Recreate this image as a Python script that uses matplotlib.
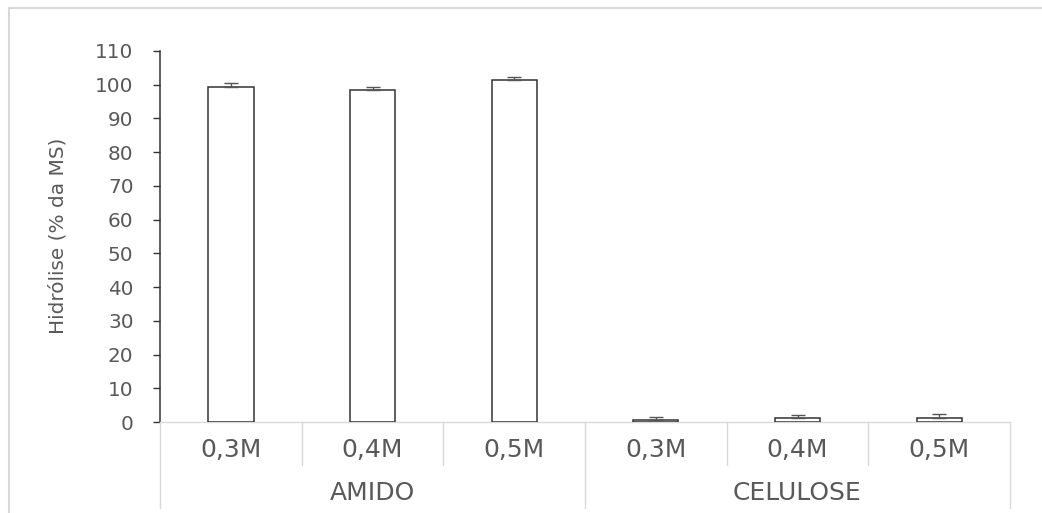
import matplotlib.pyplot as plt
import matplotlib.transforms as mtransforms
from matplotlib.patches import Rectangle

plt.rcParams['font.family'] = ['DejaVu Sans']

groups = ['AMIDO', 'CELULOSE']
concs = ['0,3M', '0,4M', '0,5M']
valores = [99.4, 98.3, 101.4, 0.6, 1.3, 1.3]
erros = [1.0, 1.0, 1.0, 1.0, 0.7, 1.0]
yticks = list(range(0, 111, 10))

W, H = 1042, 513
fig = plt.figure(figsize=(W / 100, H / 100), dpi=100)
ax = fig.add_axes([160 / W, (H - 422) / H, (1010 - 160) / W, (422 - 51) / H])

x = list(range(len(valores)))
ax.bar(x, valores, width=0.32, color='white', edgecolor='#333333', linewidth=1.1,
       yerr=[[0] * len(erros), erros],
       error_kw=dict(ecolor='#555555', elinewidth=1.0, capsize=5, capthick=1.0),
       zorder=3)

ax.set_xlim(-0.5, len(valores) - 0.5)
ax.set_ylim(0, 110)
ax.set_yticks(yticks)
ax.tick_params(axis='y', direction='out', length=5, width=1, color='#333333',
               labelsize=14.4, labelcolor='#595959', pad=14)
ax.set_xticks([])
for s in ['top', 'right']:
    ax.spines[s].set_visible(False)
ax.spines['left'].set_color('#333333')
ax.spines['left'].set_linewidth(1.1)
ax.spines['bottom'].set_color('#d9d9d9')
ax.spines['bottom'].set_linewidth(1.0)

ax.set_ylabel('Hidrólise (% da MS)', fontsize=14.4, color='#595959')
ax.yaxis.set_label_coords(67 / W, (H - 236) / H, transform=fig.transFigure)

# category axis with two levels
trans = mtransforms.blended_transform_factory(ax.transData, fig.transFigure)
y0 = (H - 422) / H
y_inner = (H - 465) / H
y_outer = (H - 508) / H
for i, lab in enumerate(concs * len(groups)):
    ax.text(i, (H - 450) / H, lab, transform=trans, ha='center', va='center',
            fontsize=18, color='#595959')
for i in range(len(valores) + 1):
    bottom = y_outer if i % len(concs) == 0 else y_inner
    ax.plot([i - 0.5, i - 0.5], [y0, bottom], transform=trans, color='#d9d9d9',
            lw=1.0, clip_on=False)
for g, name in enumerate(groups):
    xc = g * len(concs) + (len(concs) - 1) / 2
    ax.text(xc, (H - 493) / H, name, transform=trans, ha='center', va='center',
            fontsize=18, color='#595959')

# outer frame
fig.patches.append(Rectangle((9 / W, -0.1), 1.1, (H - 8) / H + 0.1,
                             transform=fig.transFigure, fill=False,
                             edgecolor='#d9d9d9', linewidth=1.5))

fig.savefig('out.png', dpi=100)
